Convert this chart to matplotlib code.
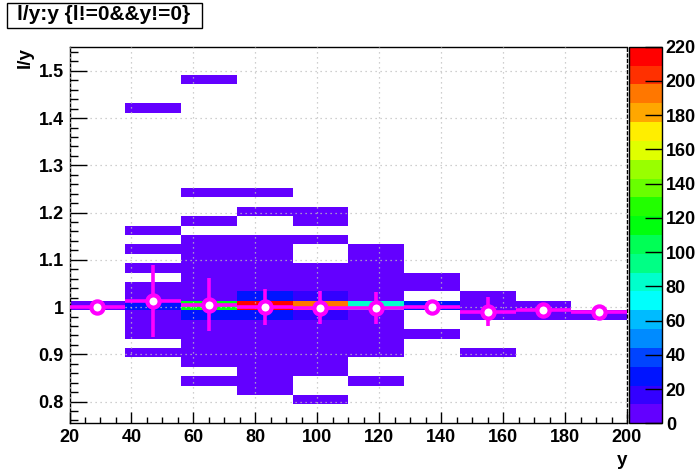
import colorsys
import numpy as np
import matplotlib
matplotlib.use("Agg")
import matplotlib.pyplot as plt
from matplotlib.colors import ListedColormap, BoundaryNorm
from matplotlib.patches import Rectangle
from matplotlib.ticker import MultipleLocator, FuncFormatter

plt.rcParams['font.family'] = ['Liberation Sans', 'DejaVu Sans']
plt.rcParams['font.weight'] = 'bold'

# binning of the 2D histogram
x_lo, x_hi, nx = 20, 200, 10
y_lo, y_hi, ny = 0.754, 1.551, 40

# bin contents, one row per y bin, top row (y ~ 1.55) first
counts = [
    [0, 0, 0, 0, 0, 0, 0, 0, 0, 0],
    [0, 0, 0, 0, 0, 0, 0, 0, 0, 0],
    [0, 0, 0, 0, 0, 0, 0, 0, 0, 0],
    [0, 0, 1, 0, 0, 0, 0, 0, 0, 0],
    [0, 0, 0, 0, 0, 0, 0, 0, 0, 0],
    [0, 0, 0, 0, 0, 0, 0, 0, 0, 0],
    [0, 1, 0, 0, 0, 0, 0, 0, 0, 0],
    [0, 0, 0, 0, 0, 0, 0, 0, 0, 0],
    [0, 0, 0, 0, 0, 0, 0, 0, 0, 0],
    [0, 0, 0, 0, 0, 0, 0, 0, 0, 0],
    [0, 0, 0, 0, 0, 0, 0, 0, 0, 0],
    [0, 0, 0, 0, 0, 0, 0, 0, 0, 0],
    [0, 0, 0, 0, 0, 0, 0, 0, 0, 0],
    [0, 0, 0, 0, 0, 0, 0, 0, 0, 0],
    [0, 0, 0, 0, 0, 0, 0, 0, 0, 0],
    [0, 0, 1, 1, 0, 0, 0, 0, 0, 0],
    [0, 0, 0, 0, 0, 0, 0, 0, 0, 0],
    [0, 0, 0, 1, 1, 0, 0, 0, 0, 0],
    [0, 0, 1, 0, 1, 0, 0, 0, 0, 0],
    [0, 1, 0, 0, 0, 0, 0, 0, 0, 0],
    [0, 0, 1, 1, 1, 0, 0, 0, 0, 0],
    [0, 1, 2, 2, 0, 1, 0, 0, 0, 0],
    [0, 0, 2, 2, 0, 1, 0, 0, 0, 0],
    [0, 1, 3, 3, 1, 2, 0, 0, 0, 0],
    [0, 0, 3, 4, 2, 2, 1, 0, 0, 0],
    [0, 2, 4, 6, 3, 3, 2, 0, 0, 0],
    [0, 4, 8, 28, 15, 6, 0, 2, 0, 0],
    [6, 30, 120, 218, 190, 82, 26, 5, 4, 0],
    [0, 5, 27, 30, 17, 8, 0, 3, 3, 3],
    [0, 3, 9, 8, 6, 4, 0, 0, 0, 0],
    [0, 2, 5, 5, 4, 3, 1, 0, 0, 0],
    [0, 0, 3, 4, 3, 2, 0, 0, 0, 0],
    [0, 1, 2, 3, 2, 1, 0, 1, 0, 0],
    [0, 0, 1, 2, 2, 0, 0, 0, 0, 0],
    [0, 0, 0, 1, 1, 0, 0, 0, 0, 0],
    [0, 0, 1, 1, 0, 1, 0, 0, 0, 0],
    [0, 0, 0, 1, 0, 0, 0, 0, 0, 0],
    [0, 0, 0, 0, 1, 0, 0, 0, 0, 0],
    [0, 0, 0, 0, 0, 0, 0, 0, 0, 0],
    [0, 0, 0, 0, 0, 0, 0, 0, 0, 0],
]

# profile (mean l/y per x bin) and its errors
prof_mean = [1.000, 1.013, 1.005, 1.000, 0.999, 0.998, 1.000, 0.990, 0.994, 0.990]
prof_err = [0.010, 0.077, 0.056, 0.039, 0.035, 0.034, 0.014, 0.031, 0.012, 0.006]

z_max = 220
n_levels = 20


def root_palette(n):
    # ROOT "pretty" palette (violet -> red), 50 colours, picked per contour level
    cols = []
    for k in range(n):
        idx = int((k + 0.99) * 50 / n)
        hue = 280 - (idx + 1) * 280 / 50
        cols.append(colorsys.hls_to_rgb(hue / 360, 0.5, 1.0))
    return cols


cmap = ListedColormap(root_palette(n_levels))
norm = BoundaryNorm(np.linspace(0, z_max, n_levels + 1), n_levels)

xedges = np.linspace(x_lo, x_hi, nx + 1)
yedges = np.linspace(y_lo, y_hi, ny + 1)
xcent = 0.5 * (xedges[:-1] + xedges[1:])
z = np.ma.masked_equal(np.flipud(np.array(counts, dtype=float)), 0)

fig = plt.figure(figsize=(6.96, 4.72), dpi=100)
ax = fig.add_axes([69.5 / 696, 1 - 423.3 / 472, 557.5 / 696, 376.6 / 472])
cax = fig.add_axes([629 / 696, 1 - 423.3 / 472, 32.7 / 696, 376.6 / 472])

mesh = ax.pcolormesh(xedges, yedges, z, cmap=cmap, norm=norm, zorder=1)

ax.errorbar(xcent, prof_mean, yerr=prof_err, xerr=(x_hi - x_lo) / nx / 2,
            fmt='none', ecolor='#ff00ff', elinewidth=2.6, capsize=0, zorder=3)
ax.plot(xcent, prof_mean, 'o', ms=8.8, mfc='white', mec='#ff00ff', mew=3.0, zorder=4)

ax.set_xlim(x_lo, x_hi)
ax.set_ylim(y_lo, y_hi)
ax.xaxis.set_major_locator(MultipleLocator(20))
ax.xaxis.set_minor_locator(MultipleLocator(5))
ax.yaxis.set_major_locator(MultipleLocator(0.1))
ax.yaxis.set_minor_locator(MultipleLocator(0.02))
ax.yaxis.set_major_formatter(FuncFormatter(lambda v, p: '%g' % round(v, 2)))
ax.tick_params(axis='x', which='major', direction='in', length=8, width=1, labelsize=13, pad=4)
ax.tick_params(axis='x', which='minor', direction='in', length=4.5, width=1)
ax.tick_params(axis='y', which='major', direction='in', length=12, width=1, labelsize=13, pad=4)
ax.tick_params(axis='y', which='minor', direction='in', length=6, width=1)
ax.grid(True, which='major', color='#c0c0c0', linestyle=(0, (1, 3)), linewidth=0.9)
ax.set_axisbelow(False)
ax.spines['right'].set_linestyle((0, (2, 2)))
for s in ax.spines.values():
    s.set_linewidth(1)

cbar = fig.colorbar(mesh, cax=cax, ticks=range(0, z_max + 1, 20))
cbar.outline.set_linewidth(1)
cbar.ax.minorticks_off()
cbar.ax.tick_params(direction='in', length=12, width=1, labelsize=13, pad=3)

# axis titles
fig.text(627 / 696, 1 - 452 / 472, 'y', ha='right', va='top', fontsize=13.5)
fig.text(25 / 696, 1 - 47 / 472, 'l/y', ha='center', va='top', rotation=90, fontsize=13.5)

# title box
fig.add_artist(Rectangle((6.7 / 696, 1 - 28.3 / 472), 195.6 / 696, 25.6 / 472,
                         transform=fig.transFigure, facecolor='white',
                         edgecolor='black', linewidth=1))
fig.text(16.7 / 696, 1 - 14.5 / 472, 'l/y:y {l!=0&&y!=0}', ha='left', va='center', fontsize=15)

fig.savefig('out.png', dpi=100)
